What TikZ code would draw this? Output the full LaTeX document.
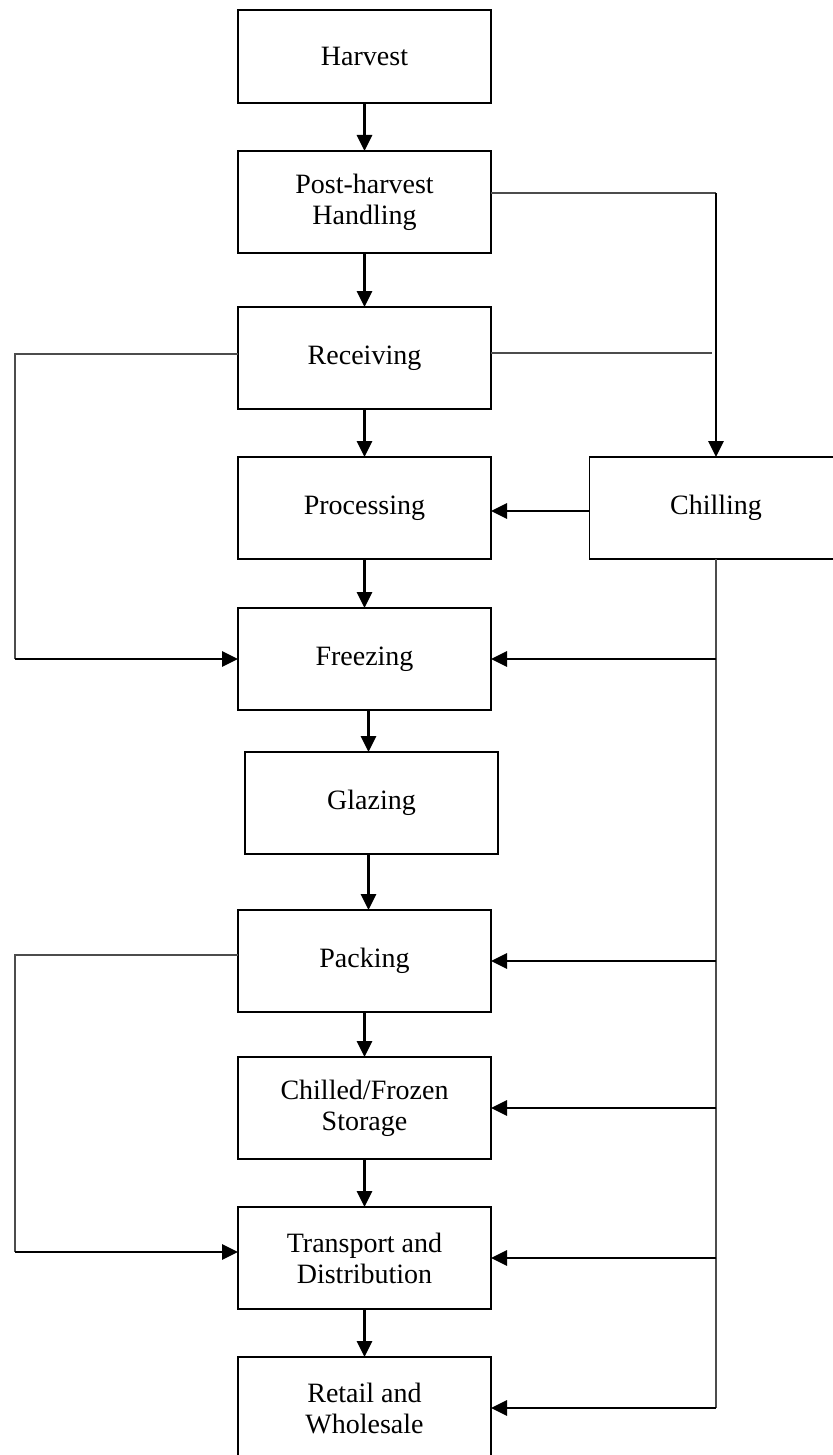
\documentclass[tikz,border=0pt]{standalone}
\usepackage{fontspec}
\setmainfont{Liberation Serif}
\usetikzlibrary{arrows.meta,positioning,calc}

\begin{document}
\begin{tikzpicture}[
    x=0.5pt, y=-0.5pt,
    % --- STYLES ---
    stage/.style={
        rectangle, draw=black, fill=white,
        line width=0.9pt, outer sep=0pt,
        minimum width=126.5pt,
        minimum height=51pt,
        align=center, inner sep=2pt,
        font=\fontsize{14}{15.5}\selectfont
    },
    flow/.style={-{Triangle[length=8pt,width=7.5pt]}, line width=1.4pt},
    link/.style={line width=0.6pt, black!70}
]

\useasboundingbox (0,0) rectangle (833,1455);

% ===== 1. COORDINATES =====
\def\xMain{364.5}
\def\xBus{716}
\def\xLoop{15}

% ===== 2. MAIN CHAIN =====
\node[stage, minimum height=46.5pt] (harvest) at (\xMain, 56.5) {Harvest};

\node[stage, below=24pt of harvest] (post) {Post-harvest\\ Handling};

\node[stage, below=27pt of post] (receiving) {Receiving};

\node[stage, below=24pt of receiving] (processing) {Processing};

\node[stage, below=24.5pt of processing] (freezing) {Freezing};

\node[stage, below=21pt of freezing, xshift=3.5pt] (glazing) {Glazing};

\node[stage, below=28pt of glazing, xshift=-3.5pt] (packing) {Packing};

\node[stage, below=22.5pt of packing] (storage) {Chilled/Frozen\\ Storage};

\node[stage, below=24pt of storage] (transport) {Transport and\\ Distribution};

\node[stage, below=24pt of transport] (retail) {Retail and\\ Wholesale};

% Chilling rechts neben Processing
\node[stage] (chilling) at (\xBus, 0 |- processing) {Chilling};

% ===== 3. HELPER COORDINATES =====
\coordinate (postbus) at ([yshift=4.5pt]post.east -| chilling.north);
\coordinate (recbus) at ([yshift=2.5pt,xshift=-2pt]receiving.east -| chilling.north);
\coordinate (busend) at (chilling.south |- retail.east);

\coordinate (recleft) at ([yshift=2pt]receiving.west -| \xLoop, 0);
\coordinate (frzleft) at (freezing.west -| \xLoop, 0);
\coordinate (packleft) at ([yshift=3pt]packing.west -| \xLoop, 0);
\coordinate (transleft) at ([yshift=3pt]transport.west -| \xLoop, 0);

% ===== 4. CONNECTIONS =====

% -- main chain --
\draw[flow] (harvest) -- (post);
\draw[flow] (post) -- (receiving);
\draw[flow] (receiving) -- (processing);
\draw[flow] (processing) -- (freezing);
\draw[flow] ([xshift=2pt]freezing.south) -- ([xshift=2pt]freezing.south |- glazing.north);
\draw[flow] ([xshift=2pt]packing.north |- glazing.south) -- ([xshift=2pt]packing.north);
\draw[flow] (packing) -- (storage);
\draw[flow] (storage) -- (transport);
\draw[flow] (transport) -- (retail);

% -- right side: into chilling --
\draw[link] ([yshift=4.5pt]post.east) -- (postbus);
\draw[flow] (postbus) -- (chilling.north);
\draw[link] ([yshift=2.5pt]receiving.east) -- (recbus);
\draw[flow] ([yshift=-1.5pt]chilling.west) -- ([yshift=-1.5pt]chilling.west -| processing.east);

% -- right side: bus out of chilling --
\draw[link] (chilling.south) -- (busend);
\foreach \n in {freezing, packing, storage, transport, retail}
    \draw[flow] (chilling.south |- \n.east) -- (\n.east);

% -- left side loops --
\draw[link] ([yshift=2pt]receiving.west) -- (recleft) -- (frzleft);
\draw[flow] (frzleft) -- (freezing.west);

\draw[link] ([yshift=3pt]packing.west) -- (packleft) -- (transleft);
\draw[flow] (transleft) -- ([yshift=3pt]transport.west);

\end{tikzpicture}
\end{document}
